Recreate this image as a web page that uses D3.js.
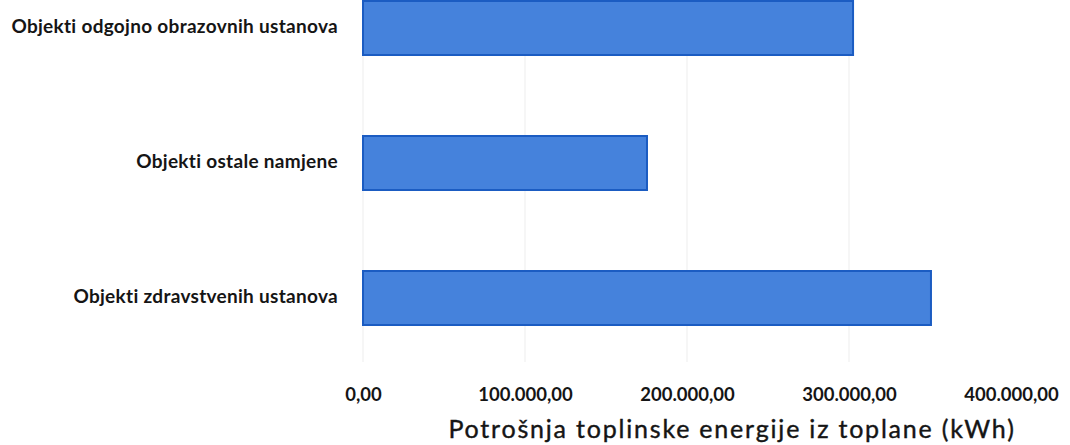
<!DOCTYPE html>
<html>
<head>
<meta charset="utf-8">
<script src="https://cdn.jsdelivr.net/npm/d3@7"></script>
<style>
  html, body { margin: 0; padding: 0; background: #fff; }
  svg { display: block; }
</style>
</head>
<body>
<svg id="chart" width="1070" height="445"></svg>
<script>
const categories = [
  "Objekti odgojno obrazovnih ustanova",
  "Objekti ostale namjene",
  "Objekti zdravstvenih ustanova"
];
const values = [302500, 175300, 350600];
const tickValues = [0, 100000, 200000, 300000, 400000];
const tickLabels = ["0,00", "100.000,00", "200.000,00", "300.000,00", "400.000,00"];
const axisTitle = "Potrošnja toplinske energije iz toplane (kWh)";

const svg = d3.select("#chart");
const font = "Lato, 'Open Sans', sans-serif";

const x = d3.scaleLinear().domain([0, 400000]).range([363, 1011]);
const y = d3.scaleBand().domain(categories).range([-39.5, 365.5]).paddingInner(0.6).paddingOuter(0.3);

// faint gridlines
svg.append("g").selectAll("line")
  .data(tickValues.slice(0, 4))
  .join("line")
  .attr("x1", d => x(d)).attr("x2", d => x(d))
  .attr("y1", 0).attr("y2", 362)
  .attr("stroke", "#ededed").attr("stroke-width", 1);

// bars
svg.append("g").selectAll("rect")
  .data(categories.map((c, i) => ({c, v: values[i]})))
  .join("rect")
  .attr("x", x(0))
  .attr("y", d => y(d.c))
  .attr("width", d => x(d.v) - x(0))
  .attr("height", y.bandwidth())
  .attr("fill", "#4582dc")
  .attr("stroke", "#1b5cc2")
  .attr("stroke-width", 2);

// category labels
const yAxis = d3.axisLeft(y).tickSize(0).tickPadding(0);
const gy = svg.append("g").attr("transform", "translate(338,0)").call(yAxis);
gy.select(".domain").remove();
gy.selectAll("text")
  .attr("font-family", font).attr("font-size", 19).attr("font-weight", 700)
  .attr("letter-spacing", "0.3px")
  .attr("dy", "0.25em")
  .attr("fill", "#151515");

// x axis tick labels
const xAxis = d3.axisBottom(x).tickValues(tickValues)
  .tickFormat((d, i) => tickLabels[i]).tickSize(0).tickPadding(0);
const gx = svg.append("g").attr("transform", "translate(0,387.5)").call(xAxis);
gx.select(".domain").remove();
gx.selectAll("text")
  .attr("font-family", font).attr("font-size", 18.5).attr("font-weight", 700)
  .attr("fill", "#151515");

// axis title
svg.append("text")
  .attr("x", 732)
  .attr("y", 438)
  .attr("text-anchor", "middle")
  .attr("font-family", font).attr("font-size", 25).attr("font-weight", 400)
  .attr("letter-spacing", "1.8px")
  .attr("stroke", "#151515").attr("stroke-width", 0.4)
  .attr("fill", "#151515")
  .text(axisTitle);
</script>
</body>
</html>
